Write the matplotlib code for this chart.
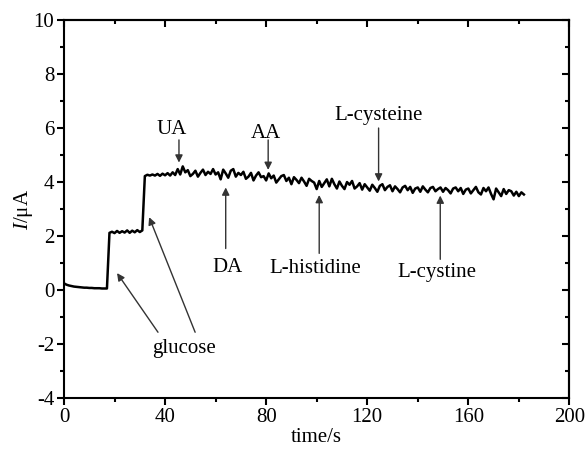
import matplotlib
matplotlib.use("Agg")
import matplotlib.pyplot as plt
import numpy as np
from matplotlib.ticker import MultipleLocator

plt.rcParams['font.family'] = ['Liberation Serif', 'DejaVu Serif']
plt.rcParams['mathtext.fontset'] = 'custom'
plt.rcParams['mathtext.rm'] = 'Liberation Serif'
plt.rcParams['mathtext.it'] = 'Liberation Serif:italic'
plt.rcParams['axes.unicode_minus'] = False

# current, one sample per second (t = 0 .. 182 s)
current = [
    0.25, 0.20, 0.17, 0.15, 0.13, 0.12, 0.11, 0.10, 0.09, 0.09,
    0.08, 0.08, 0.07, 0.07, 0.07, 0.06, 0.06, 0.06,
    2.12, 2.16, 2.11, 2.19, 2.12, 2.18, 2.13, 2.21, 2.12, 2.20,
    2.14, 2.22, 2.15, 2.21,
    4.22, 4.27, 4.24, 4.28, 4.24, 4.30, 4.23, 4.31, 4.25, 4.33,
    4.24, 4.36, 4.26,
    4.48, 4.28, 4.58, 4.36, 4.44, 4.22, 4.30, 4.42, 4.20, 4.34,
    4.46, 4.26, 4.38, 4.30, 4.48,
    4.28, 4.36, 4.10, 4.46, 4.32, 4.16, 4.42, 4.48, 4.20, 4.34,
    4.26, 4.38, 4.12, 4.20, 4.34, 4.06, 4.24, 4.36, 4.18, 4.22,
    4.06, 4.32, 4.14, 4.24, 3.98, 4.10, 4.22, 4.26, 4.04, 4.16,
    3.92, 4.18, 4.08, 3.96, 4.16, 4.02, 3.86, 4.12, 4.04, 3.98,
    3.74, 4.04, 3.82, 3.96, 4.10, 3.84, 4.12, 3.92, 3.76, 4.02,
    3.86, 3.74, 4.00, 3.90, 4.04, 3.76, 3.84, 3.96, 3.72, 3.92,
    3.80, 3.68, 3.90, 3.78, 3.64, 3.86, 3.92, 3.70, 3.82, 3.88,
    3.66, 3.84, 3.74, 3.62, 3.80, 3.86, 3.70, 3.82, 3.60, 3.76,
    3.80, 3.64, 3.84, 3.72, 3.62, 3.78, 3.82, 3.66, 3.74, 3.80,
    3.64, 3.78, 3.70, 3.58, 3.76, 3.80, 3.66, 3.78, 3.56, 3.72,
    3.76, 3.58, 3.70, 3.82, 3.62, 3.54, 3.78, 3.66, 3.80, 3.56,
    3.36, 3.76, 3.62, 3.48, 3.74, 3.56, 3.70, 3.66, 3.50, 3.64,
    3.48, 3.62, 3.54,
]
time = np.arange(len(current))

# labels: text, text position, arrow tail, arrow head
labels = ["UA", "AA", "L-cysteine", "DA", "L-histidine", "L-cystine"]
text_pos = [(42.8, 5.93), (80.0, 5.81), (124.4, 6.48),
            (64.6, 0.85), (99.4, 0.81), (147.7, 0.67)]
arrow_tail = [(45.5, 5.56), (80.8, 5.56), (124.5, 6.0),
              (64.0, 1.54), (101.0, 1.36), (148.9, 1.14)]
arrow_head = [(45.5, 4.72), (80.8, 4.45), (124.5, 4.02),
              (64.0, 3.80), (101.0, 3.52), (148.9, 3.50)]

fig = plt.figure(figsize=(5.87, 4.54), dpi=100)
ax = fig.add_axes([0.109, 0.123, 0.861, 0.833])

ax.plot(time, current, color='black', lw=1.8)

arrow_kw = dict(arrowstyle='-|>', color='#333333', lw=1.0, mutation_scale=11,
                shrinkA=0, shrinkB=0)
for lab, tp, tail, head in zip(labels, text_pos, arrow_tail, arrow_head):
    ax.text(tp[0], tp[1], lab, fontsize=15, ha='center', va='center')
    ax.annotate('', xy=head, xytext=tail, arrowprops=arrow_kw)

# glucose: one label, two arrows
ax.text(47.5, -2.15, "glucose", fontsize=15, ha='center', va='center')
ax.annotate('', xy=(21.0, 0.63), xytext=(37.2, -1.56), arrowprops=arrow_kw)
ax.annotate('', xy=(33.7, 2.70), xytext=(51.9, -1.56), arrowprops=arrow_kw)

ax.set_xlim(0, 200)
ax.set_ylim(-4, 10)
ax.xaxis.set_major_locator(MultipleLocator(40))
ax.xaxis.set_minor_locator(MultipleLocator(20))
ax.yaxis.set_major_locator(MultipleLocator(2))
ax.yaxis.set_minor_locator(MultipleLocator(1))

ax.tick_params(which='both', direction='out', width=1.5, labelsize=15,
               top=False, right=False, pad=2)
ax.tick_params(which='major', length=5)
ax.tick_params(which='minor', length=3)

# inward ticks on the top and right edges, no labels
axt = ax.secondary_xaxis('top')
axt.xaxis.set_major_locator(MultipleLocator(40))
axt.xaxis.set_minor_locator(MultipleLocator(20))
axt.tick_params(which='both', direction='in', width=1.5, labeltop=False)
axt.tick_params(which='major', length=5)
axt.tick_params(which='minor', length=3)
axr = ax.secondary_yaxis('right')
axr.yaxis.set_major_locator(MultipleLocator(2))
axr.yaxis.set_minor_locator(MultipleLocator(1))
axr.tick_params(which='both', direction='in', width=1.5, labelright=False)
axr.tick_params(which='major', length=5)
axr.tick_params(which='minor', length=3)

for sp in list(ax.spines.values()) + [axt.spines['top'], axr.spines['right']]:
    sp.set_linewidth(1.5)

ax.set_xlabel("time/s", fontsize=15, labelpad=1)
ax.set_ylabel(r"$I$/μA", fontsize=15)
ax.yaxis.set_label_coords(-0.058, 0.5)

fig.savefig("out.png", dpi=100)
